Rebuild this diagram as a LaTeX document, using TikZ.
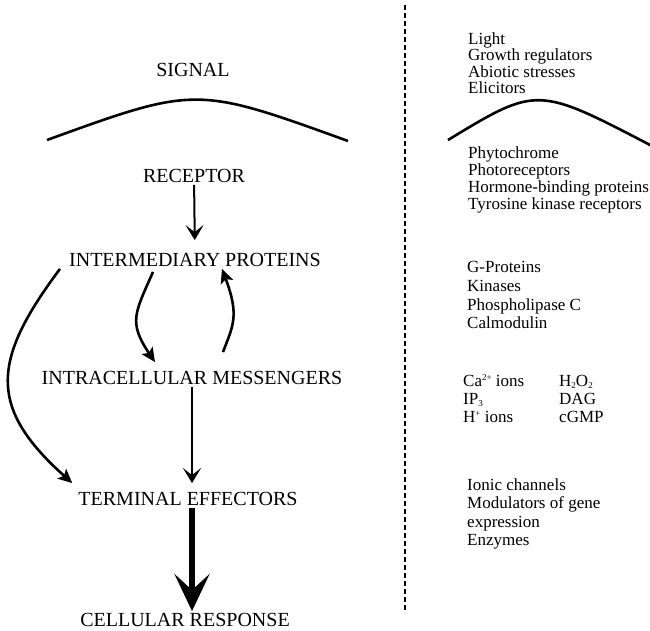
\documentclass[tikz,border=0pt]{standalone}
\usepackage{fontspec}
\setmainfont{Liberation Serif}
\usetikzlibrary{arrows.meta,calc,positioning}

\newcommand{\ionsup}[1]{\raisebox{6pt}{\fontsize{9}{9}\selectfont #1}}
\newcommand{\ionsub}[1]{\raisebox{-2.5pt}{\fontsize{9}{9}\selectfont #1}}

\tikzset{
  stage/.style={font=\fontsize{20}{24}\selectfont, inner sep=2pt},
  items/.style={align=left, anchor=north west, inner sep=0pt},
  flow/.style={-{Stealth[length=15pt,width=18pt,inset=7pt]}, line width=2pt},
  curvy/.style={-{Stealth[length=14pt,width=13pt,inset=3pt]}, line width=2.6pt},
  bigflow/.style={-{Stealth[length=37pt,width=35pt,inset=16pt]}, line width=5.5pt},
  membrane/.style={line width=2.6pt},
  divider/.style={line width=2.4pt, dash pattern=on 5pt off 3pt}
}

\begin{document}
\begin{tikzpicture}[x=1pt, y=-1pt]
\useasboundingbox (0,0) rectangle (650,631);

% pathway
\node[stage] (signal) at (193,70) {SIGNAL};
\node[stage] (receptor) at (194,176) {RECEPTOR};
\node[stage] (inter) at (195,260) {INTERMEDIARY PROTEINS};
\node[stage] (intra) at (192,378) {INTRACELLULAR MESSENGERS};
\node[stage] (term) at (188,499) {TERMINAL EFFECTORS};
\node[stage] (resp) at (185,620) {CELLULAR RESPONSE};

\draw[membrane] (47,140) .. controls (196,86) .. (348,141);

\draw[flow, shorten >=11pt] (receptor) -- (inter);
\draw[flow, shorten >=7pt] (intra) -- (intra |- term.north);
\draw[bigflow] (intra |- term.south) -- (intra |- resp.north);

\draw[curvy] ($(inter.south)+(-42,3)$) .. controls +(-18,41) and +(-27,-40) .. ($(intra.north)+(-37,-7)$);
\draw[curvy] ($(intra.north)+(31,-17)$) .. controls +(10,-26.5) and +(17.6,47) .. ($(inter.south)+(27,0)$);
\draw[curvy] ($(inter.south west)+(-7,0)$) .. controls +(-68,91) and +(-85,-76) .. ($(term.north west)+(-4,-7)$);

% examples
\draw[divider] (405,5) -- (405,613);

\draw[membrane] (448,140) .. controls (537,86) .. (652,146);

\node[items, font=\fontsize{17}{16.4}\selectfont] (stimuli) at (468,32.4) {Light\\Growth regulators\\Abiotic stresses\\Elicitors};
\node[items, font=\fontsize{17}{17}\selectfont] (receptors) at (468,146.4) {Phytochrome\\Photoreceptors\\Hormone-binding proteins\\Tyrosine kinase receptors};
\node[items, font=\fontsize{17}{18.6}\selectfont] (proteins) at (467,261.4) {G-Proteins\\Kinases\\Phospholipase C\\Calmodulin};
\node[items, font=\fontsize{17}{18}\selectfont] (ions) at (463,374) {Ca\ionsup{2+} ions\\IP\ionsub{3}\\H\ionsup{+} ions};
\node[items, font=\fontsize{17}{18}\selectfont] (seconds) at (559,374) {\vphantom{Ca\ionsup{2+}}H\ionsub{2}O\ionsub{2}\\DAG\\cGMP};
\node[items, font=\fontsize{17}{18.5}\selectfont] (effectors) at (467,478.4) {Ionic channels\\Modulators of gene\\expression\\Enzymes};

\end{tikzpicture}
\end{document}
